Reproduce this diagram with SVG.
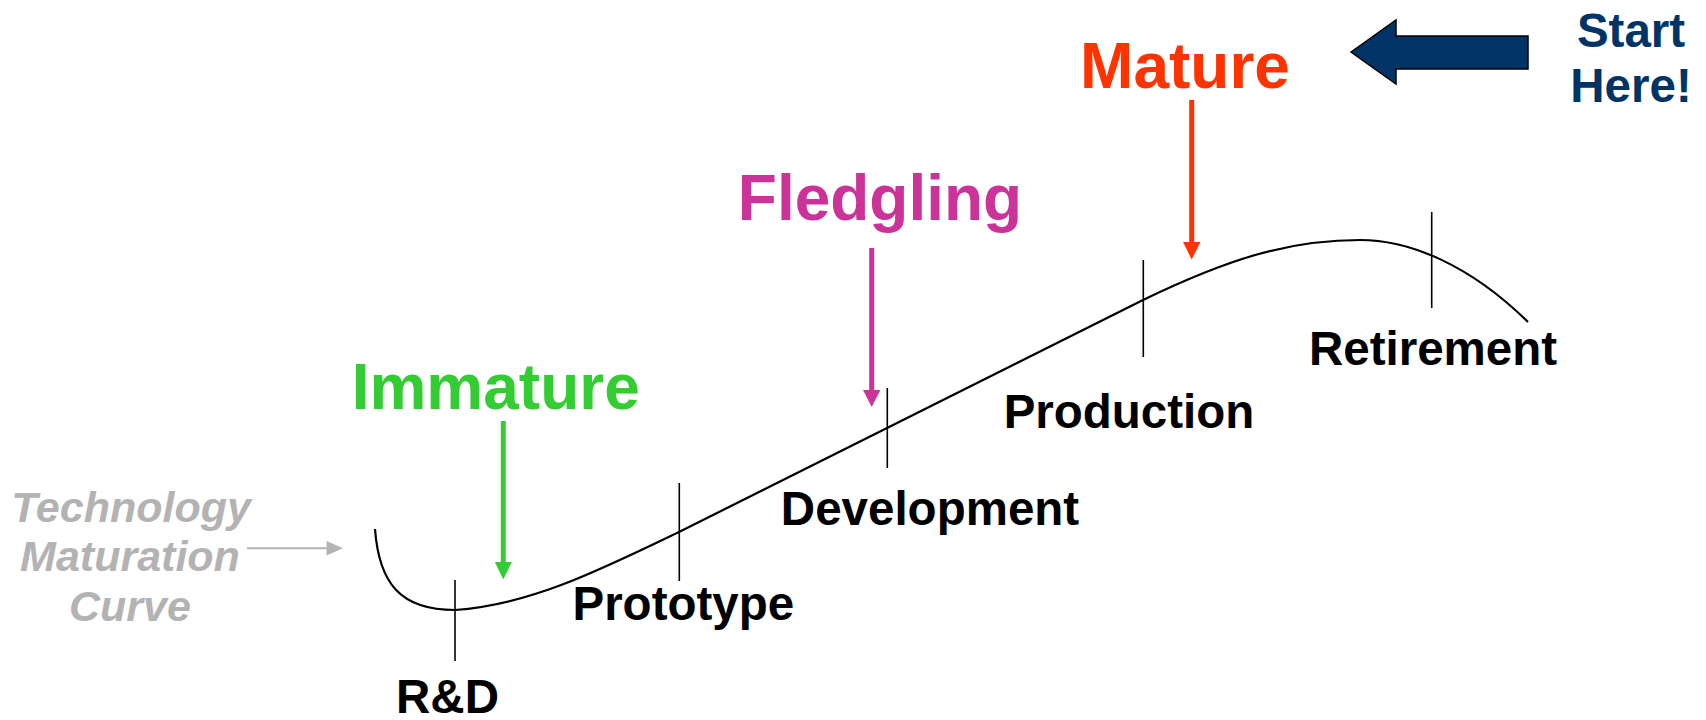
<svg xmlns="http://www.w3.org/2000/svg" width="1706" height="720" viewBox="0 0 1706 720">
<style>
.lbl{font-family:"Liberation Sans",Arial,sans-serif;font-weight:bold;font-size:47.5px;fill:#000;text-anchor:middle}
.big{font-family:"Liberation Sans",Arial,sans-serif;font-weight:bold;font-size:64px;text-anchor:middle}
.gray{font-family:"Liberation Sans",Arial,sans-serif;font-weight:bold;font-style:italic;font-size:43px;fill:#b3b3b3;text-anchor:middle}
.tick{stroke:#000;stroke-width:1.6;fill:none}
.curve{stroke:#000;stroke-width:2.2;fill:none}
</style>
<rect width="1706" height="720" fill="#fff"/>
<g id="connectors">
<path class="curve" d="M375,529 C379,583 400,610 455,610 C530,605 600,570 679,532 C760,493 1060,340 1143,300 C1230,258 1290,240 1360,240 C1410,240 1470,265 1528,322"/>
<line class="tick" x1="455" y1="580" x2="455" y2="661"/>
<line class="tick" x1="679.3" y1="483" x2="679.3" y2="581"/>
<line class="tick" x1="887.3" y1="388" x2="887.3" y2="468"/>
<line class="tick" x1="1143.3" y1="260" x2="1143.3" y2="357"/>
<line class="tick" x1="1431.7" y1="212" x2="1431.7" y2="308"/>
<g id="arrow-immature">
<line x1="503.3" y1="421" x2="503.3" y2="564" stroke="#33cc33" stroke-width="5"/>
<polygon points="494.8,562 511.8,562 503.3,579.5" fill="#33cc33"/>
</g>
<g id="arrow-fledgling">
<line x1="871.7" y1="248" x2="871.7" y2="392" stroke="#cc3399" stroke-width="5"/>
<polygon points="863,390 880.4,390 871.7,407" fill="#cc3399"/>
</g>
<g id="arrow-mature">
<line x1="1191.7" y1="100" x2="1191.7" y2="244" stroke="#ff3300" stroke-width="5"/>
<polygon points="1183,242 1200.4,242 1191.7,259.5" fill="#ff3300"/>
</g>
<g id="arrow-curve">
<line x1="247" y1="548.3" x2="329" y2="548.3" stroke="#b3b3b3" stroke-width="2"/>
<polygon points="343,548.3 326.5,541 326.5,555.6" fill="#b3b3b3"/>
</g>
</g>
<g id="start-arrow">
<polygon points="1351,52 1396,20 1396,36 1528,36 1528,69 1396,69 1396,84" fill="#003366" stroke="#000" stroke-width="1.5" stroke-linejoin="miter"/>
</g>
<g id="start-here">
<text class="big" style="font-size:47.5px;fill:#003366" x="1631" y="46.7">Start</text>
<text class="big" style="font-size:47.5px;fill:#003366" x="1631" y="101.7">Here!</text>
</g>
<g id="mature"><text class="big" fill="#ff3300" x="1185" y="88.3">Mature</text></g>
<g id="fledgling"><text class="big" fill="#cc3399" x="880" y="220">Fledgling</text></g>
<g id="immature"><text class="big" fill="#33cc33" x="495.7" y="409.3">Immature</text></g>
<g id="tmc">
<text class="gray" x="131" y="522">Technology</text>
<text class="gray" x="130" y="571">Maturation</text>
<text class="gray" x="130" y="621">Curve</text>
</g>
<g id="rd"><text class="lbl" x="447.5" y="713.3">R&amp;D</text></g>
<g id="prototype"><text class="lbl" x="683.3" y="620">Prototype</text></g>
<g id="development"><text class="lbl" x="930" y="525">Development</text></g>
<g id="production"><text class="lbl" x="1129" y="428.3">Production</text></g>
<g id="retirement"><text class="lbl" x="1433" y="365">Retirement</text></g>
</svg>
